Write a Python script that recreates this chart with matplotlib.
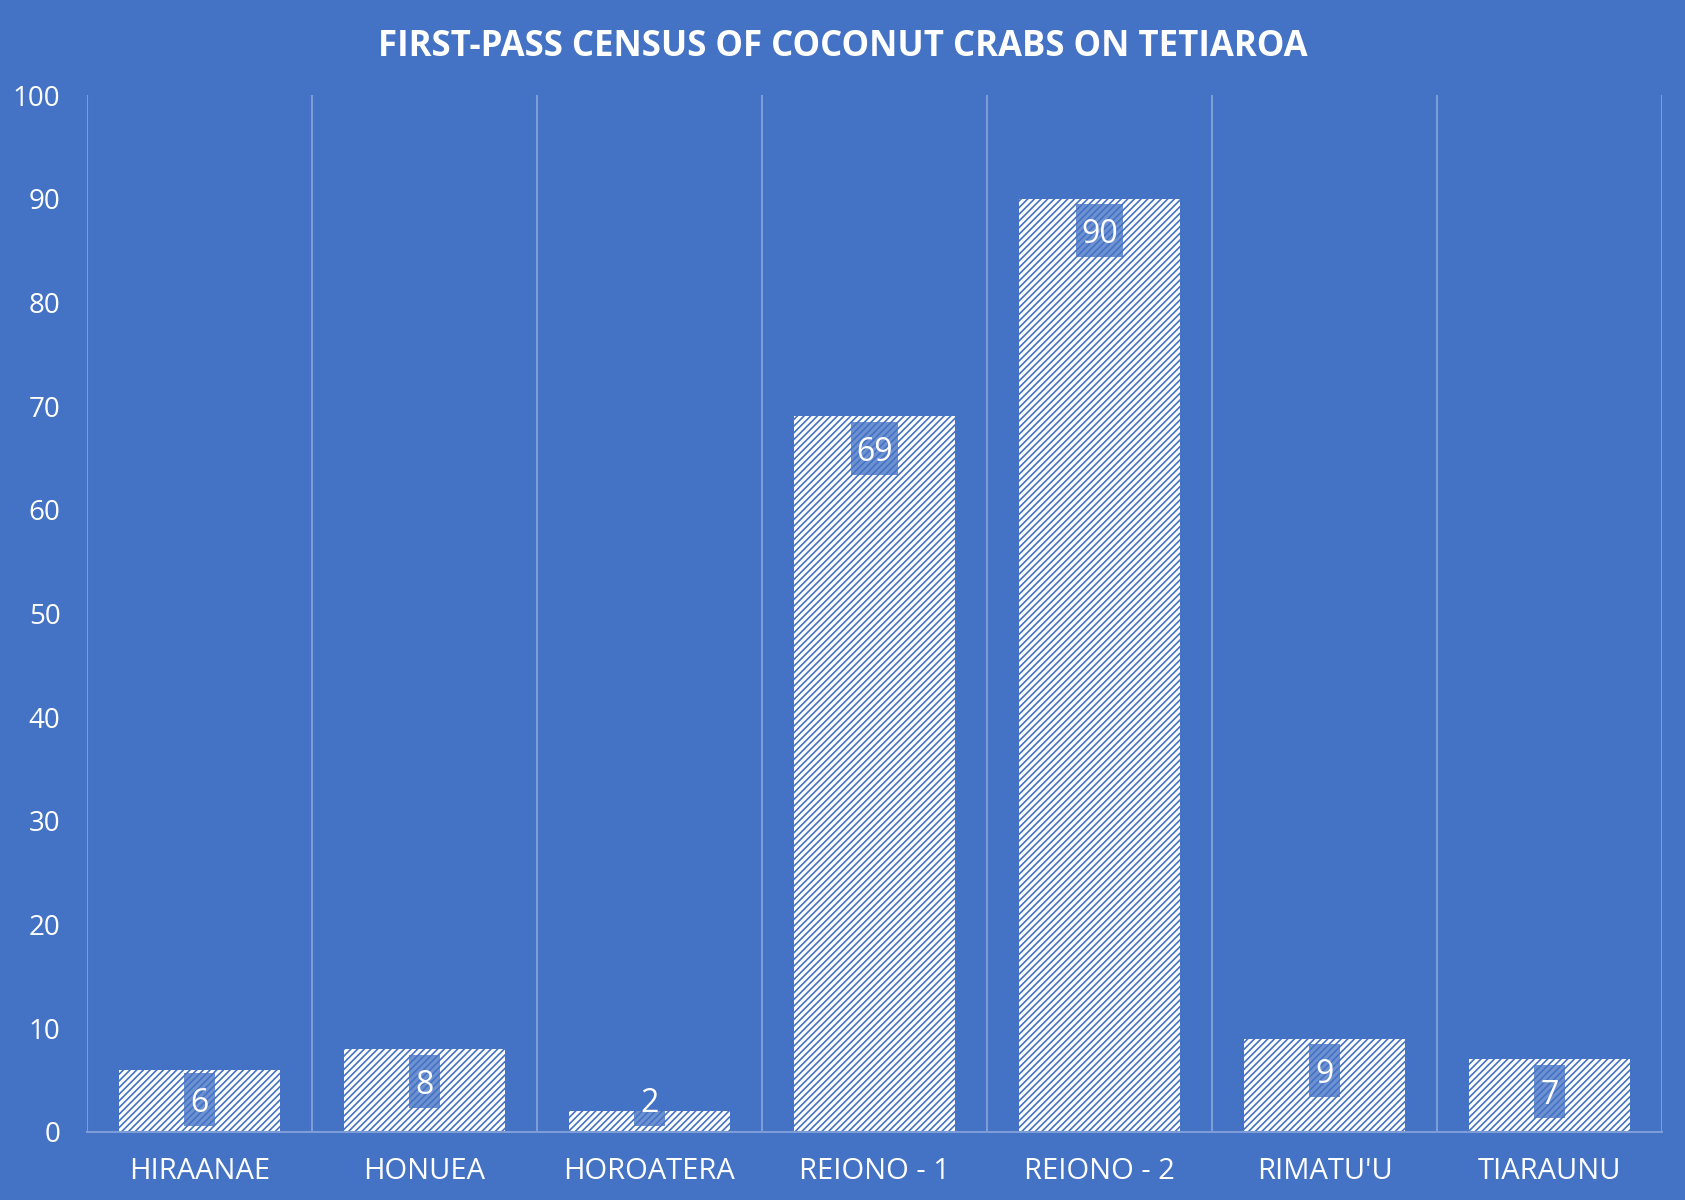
import matplotlib
matplotlib.use("Agg")
import matplotlib.pyplot as plt
from matplotlib.patches import Rectangle
import numpy as np

categories = ["HIRAANAE", "HONUEA", "HOROATERA", "REIONO - 1", "REIONO - 2", "RIMATU'U", "TIARAUNU"]
counts = [6, 8, 2, 69, 90, 9, 7]
y_ticks = [0, 10, 20, 30, 40, 50, 60, 70, 80, 90, 100]
title = "FIRST-PASS CENSUS OF COCONUT CRABS ON TETIAROA"

BG = "#4472C4"
GRID = "#7D9DD8"
plt.rcParams['font.family'] = ['Open Sans', 'DejaVu Sans']
plt.rcParams['hatch.linewidth'] = 1.2

fig = plt.figure(figsize=(16.85, 12), dpi=100, facecolor=BG)
ax = fig.add_axes([0.0516, 0.0567, 0.9348, 0.8641])
ax.set_facecolor(BG)

x = np.arange(len(categories))
ax.bar(x, counts, width=0.716, color="white", edgecolor=BG, linewidth=0, hatch="/////", zorder=3)

ax.set_xlim(-0.5, len(categories) - 0.5)
ax.set_ylim(0, 100)
ax.set_yticks(y_ticks)
ax.set_yticklabels([str(t) for t in y_ticks])
ax.set_xticks(x)
ax.set_xticklabels(categories)
ax.set_xticks(np.arange(-0.5, len(categories)), minor=True)
ax.grid(which="minor", axis="x", color=GRID, linewidth=1.5, zorder=1)
ax.grid(which="major", visible=False)
ax.tick_params(axis="both", which="both", length=0)
ax.tick_params(axis="y", labelsize=20, labelcolor="white", pad=19)
ax.tick_params(axis="x", labelsize=21, labelcolor="white", pad=18)
for lab in ax.get_xticklabels():
    lab.set_fontweight("medium")
for s in ["top", "left", "right"]:
    ax.spines[s].set_visible(False)
ax.spines["bottom"].set_color(GRID)
ax.spines["bottom"].set_linewidth(1.5)
ax.spines["bottom"].set_zorder(4)

# data labels (inside end, clamped above axis)
box_h = 5.1            # box height in value units (~53 px)
for xi, v in zip(x, counts):
    yc = max(v - 3.1, 3.15)
    bw = 0.14 if len(str(v)) == 1 else 0.205
    ax.add_patch(Rectangle((xi - bw / 2, yc - box_h / 2), bw, box_h,
                           facecolor=BG, edgecolor="none", alpha=0.78, zorder=4))
    ax.text(xi, yc, str(v), ha="center", va="center_baseline", color="white", fontsize=23,
            zorder=5)

fig.text(0.5, 0.961, title, ha="center", va="center", color="white",
         fontsize=25, fontweight="bold")

fig.savefig("out.png", dpi=100, facecolor=BG)
